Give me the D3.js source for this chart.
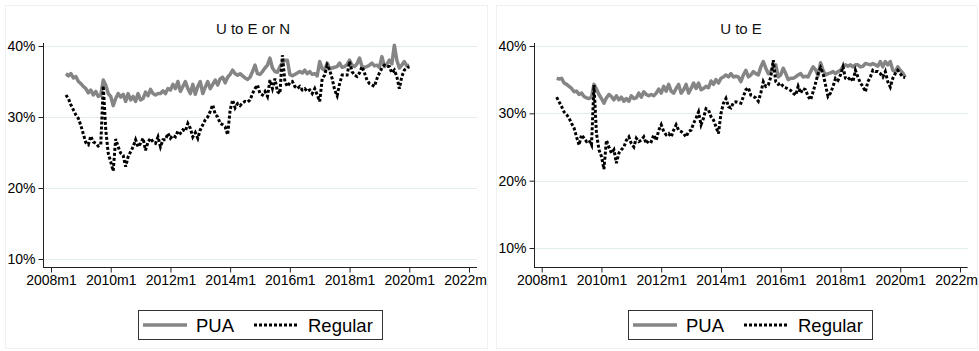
<!DOCTYPE html>
<html><head><meta charset="utf-8">
<script src="https://cdn.jsdelivr.net/npm/d3@7"></script>
<style>
body{margin:0;background:#fff}
svg{display:block;font-family:Arial,"Liberation Sans",sans-serif}
</style>
</head><body><svg id="c" width="979" height="351"></svg>
<script>
// months since 2008m1 of the first observation (2008m7)
const startMonth = 6;
const xTickMonths = [0, 24, 48, 72, 96, 120, 144, 168];
const xTickLabels = ["2008m1","2010m1","2012m1","2014m1","2016m1","2018m1","2020m1","2022m1"];
const yTickValues = [10, 20, 30, 40];
const panelTitles = ["U to E or N", "U to E"];
const seriesNames = ["PUA", "Regular"];

const puaLeft = [36.1,35.8,36.1,35.5,35.7,35.0,
34.7,34.3,34.0,33.4,33.8,33.1,33.6,32.9,33.1,35.2,34.5,33.3,
32.9,31.6,32.6,33.3,32.8,33.2,32.2,33.3,32.4,32.9,32.2,33.3,
32.4,32.6,33.5,33.0,33.9,33.3,33.1,33.3,33.3,33.7,33.3,34.0,
33.8,34.6,34.0,35.0,33.6,34.3,35.0,34.0,33.3,34.6,33.2,34.3,
35.0,33.3,34.2,35.0,34.0,34.6,35.2,34.5,35.4,35.6,34.8,35.6,
36.0,36.6,36.1,35.9,36.1,35.8,35.5,35.3,35.6,36.4,37.3,36.1,
36.0,36.4,36.9,37.3,38.3,36.9,36.4,36.3,37.1,37.6,38.0,38.0,
36.0,35.8,36.0,36.2,36.4,36.2,36.6,36.1,36.4,36.0,36.1,35.8,
37.8,36.8,36.6,37.6,36.8,36.9,37.0,37.1,37.6,37.0,37.1,37.4,
38.0,37.3,37.1,37.5,38.3,37.1,37.0,37.1,37.3,37.6,37.2,37.3,
37.0,38.5,37.1,37.4,38.0,37.5,40.1,38.0,36.9,37.3,37.8,37.2,
37.3];

const regularLeft = [33.1,32.6,31.7,31.0,30.3,29.8,
28.8,27.6,26.4,26.1,27.3,26.5,26.3,25.9,26.1,34.4,28.2,24.9,
23.7,22.4,26.9,25.8,24.9,24.6,23.0,24.4,25.1,25.8,26.8,25.8,
26.3,27.0,25.3,26.5,27.0,26.5,26.3,27.2,25.8,26.8,26.8,27.7,
27.0,27.4,27.2,28.0,27.7,28.2,28.0,29.1,28.4,27.2,27.8,27.0,
28.2,28.9,29.6,30.0,30.8,31.7,30.4,30.0,29.1,28.9,28.6,27.5,
31.0,32.4,31.3,31.9,31.6,32.0,32.2,32.1,32.4,33.3,34.0,34.5,
33.3,33.1,33.6,32.9,35.2,34.0,35.4,33.6,33.3,38.7,35.0,34.3,
34.8,35.0,34.3,34.0,34.3,33.8,34.0,33.6,33.8,33.3,34.0,33.1,
32.2,35.4,35.9,37.3,36.6,35.4,33.8,33.0,34.7,35.9,35.9,35.9,
37.8,36.4,35.9,35.7,36.2,37.1,36.2,35.2,34.7,34.5,34.3,35.4,
36.2,36.9,37.3,37.1,37.1,36.2,36.6,35.7,34.0,35.7,36.6,36.9,
37.1];

const puaRight = [35.2,35.1,35.2,34.5,34.3,34.0,
33.7,33.2,33.3,32.8,33.0,32.5,32.3,32.2,32.4,34.3,33.6,32.8,
32.2,31.5,32.3,32.8,32.5,32.0,32.6,32.0,32.4,31.8,32.2,31.8,
32.6,32.2,32.3,33.0,32.4,33.2,32.8,32.6,32.8,32.6,33.0,33.6,
33.0,34.0,33.3,34.3,33.3,33.0,33.7,34.3,33.0,33.5,34.3,33.0,
33.7,34.5,33.7,34.5,33.5,33.7,34.0,33.8,34.8,34.3,35.0,34.5,
35.2,35.4,35.7,35.4,35.9,35.4,35.5,35.4,34.7,35.7,36.4,35.4,
35.7,36.2,35.9,35.7,36.9,37.7,36.7,35.9,36.2,36.9,37.2,35.4,
35.7,36.7,35.9,35.0,35.2,35.2,35.4,35.7,35.9,35.4,35.5,35.4,
36.2,36.9,36.5,35.6,37.5,36.4,35.7,35.9,36.0,36.2,35.9,36.2,
36.4,36.9,37.2,37.0,37.2,36.9,37.2,37.2,36.9,37.0,37.4,37.3,
37.2,37.4,37.2,37.0,37.7,36.9,37.7,37.2,37.7,36.4,36.2,36.9,
36.4,36.0,35.4];

const regularRight = [32.4,31.7,31.0,30.2,29.8,29.3,
28.5,27.8,26.5,25.3,26.8,26.3,25.8,26.0,25.3,34.2,27.0,24.6,
23.6,21.7,26.0,25.0,24.1,24.6,22.6,24.1,24.6,25.0,26.0,26.5,
25.5,25.0,26.3,25.8,26.0,26.5,25.5,26.0,25.8,26.8,26.0,27.5,
28.3,27.3,26.8,27.0,26.5,27.5,28.3,27.5,27.3,27.0,26.5,27.3,
27.5,28.5,29.3,30.2,28.3,29.3,30.7,30.5,29.5,29.0,28.0,27.0,
30.0,31.5,32.2,31.0,30.8,31.6,31.7,31.6,31.5,32.5,33.5,33.8,
32.7,32.5,32.3,31.8,33.0,34.7,34.0,34.2,35.4,37.9,34.7,34.3,
34.5,34.0,33.8,33.6,33.4,33.0,32.7,34.0,33.0,33.7,33.5,32.5,
32.0,33.2,34.5,35.9,36.8,35.9,34.2,32.5,33.0,34.0,35.2,34.9,
35.7,36.9,35.2,35.0,35.4,34.7,36.4,35.4,34.5,34.0,33.2,34.7,
35.4,36.4,36.2,36.2,35.9,35.4,36.2,34.7,33.9,35.2,35.9,36.4,
35.9,35.4,35.3];

const panels = [
  {title: panelTitles[0], pua: puaLeft, reg: regularLeft,
   clipX: 0, clipW: 488, frameX: 5.5, frameW: 482,
   axisX: 43, xLo: 51, xHi: 469, plotRight: 477,
   y10: 259, y40: 46, titleX: 253, legendX: 138},
  {title: panelTitles[1], pua: puaRight, reg: regularRight,
   clipX: 490, clipW: 489, frameX: 496.5, frameW: 481,
   axisX: 534, xLo: 541.7, xHi: 960, plotRight: 967.7,
   y10: 248, y40: 46, titleX: 741, legendX: 628}
];

const svg = d3.select("#c");
const defs = svg.append("defs");
const plotTop = 43, plotBottom = 267;
const puaColor = "#858585";

panels.forEach((p, k) => {
  defs.append("clipPath").attr("id", "clip" + k)
    .append("rect").attr("x", p.clipX).attr("y", 0).attr("width", p.clipW).attr("height", 351);
  const g = svg.append("g").attr("clip-path", `url(#clip${k})`);

  g.append("rect").attr("x", p.frameX).attr("y", 5.5).attr("width", p.frameW).attr("height", 343)
    .attr("fill", "#fff").attr("stroke", "#eef2f4").attr("stroke-width", 1);

  const x = d3.scaleLinear().domain([xTickMonths[0], xTickMonths[xTickMonths.length - 1]]).range([p.xLo, p.xHi]);
  const y = d3.scaleLinear().domain([10, 40]).range([p.y10, p.y40]);

  // grid
  g.append("g").selectAll("line").data(yTickValues).join("line")
    .attr("x1", p.axisX).attr("x2", p.plotRight)
    .attr("y1", d => Math.round(y(d)) + 0.5).attr("y2", d => Math.round(y(d)) + 0.5)
    .attr("stroke", "#e3ecee").attr("stroke-width", 1.2);

  // title
  g.append("text").attr("x", p.titleX).attr("y", 34).attr("text-anchor", "middle")
    .attr("font-size", 15).attr("fill", "#111").text(p.title);

  // series
  const line = d3.line().x((d, i) => x(startMonth + i)).y(d => y(d));
  g.append("path").datum(p.pua).attr("d", line).attr("fill", "none")
    .attr("stroke", puaColor).attr("stroke-width", 3.5).attr("stroke-linejoin", "round");
  g.append("path").datum(p.reg).attr("d", line).attr("fill", "none")
    .attr("stroke", "#000").attr("stroke-width", 3).attr("stroke-dasharray", "3,2");

  // y axis
  const ya = g.append("g").attr("transform", `translate(${p.axisX + 0.5},0)`)
    .call(d3.axisLeft(y).tickValues(yTickValues).tickFormat(d => d + "%").tickSize(5).tickPadding(3));
  ya.select(".domain").remove();
  ya.selectAll("text").attr("font-size", 14).attr("font-family", "Arial, 'Liberation Sans', sans-serif").attr("fill", "#000");
  ya.selectAll("line").attr("stroke", "#222");
  g.append("line").attr("x1", p.axisX + 0.5).attr("x2", p.axisX + 0.5).attr("y1", plotTop).attr("y2", plotBottom)
    .attr("stroke", "#222");

  // x axis
  const xa = g.append("g").attr("transform", `translate(0,${plotBottom + 0.5})`)
    .call(d3.axisBottom(x).tickValues(xTickMonths).tickFormat((d, i) => xTickLabels[i]).tickSize(5).tickPadding(3));
  xa.select(".domain").remove();
  xa.selectAll("text").attr("font-size", 14).attr("font-family", "Arial, 'Liberation Sans', sans-serif").attr("fill", "#000");
  xa.selectAll("line").attr("stroke", "#222");
  g.append("line").attr("x1", p.axisX).attr("x2", p.plotRight).attr("y1", plotBottom + 0.5).attr("y2", plotBottom + 0.5)
    .attr("stroke", "#222");

  // legend
  const lg = g.append("g").attr("transform", `translate(${p.legendX},310)`);
  lg.append("rect").attr("x", 0.5).attr("y", 0.5).attr("width", 244).attr("height", 29)
    .attr("fill", "#fff").attr("stroke", "#333").attr("stroke-width", 1);
  lg.append("line").attr("x1", 5).attr("x2", 49).attr("y1", 15).attr("y2", 15)
    .attr("stroke", puaColor).attr("stroke-width", 3.5);
  lg.append("text").attr("x", 58).attr("y", 22).attr("font-size", 18.5).attr("fill", "#000").text(seriesNames[0]);
  lg.append("line").attr("x1", 116).attr("x2", 161).attr("y1", 15).attr("y2", 15)
    .attr("stroke", "#000").attr("stroke-width", 3).attr("stroke-dasharray", "3,2");
  lg.append("text").attr("x", 170).attr("y", 22).attr("font-size", 18.5).attr("fill", "#000").text(seriesNames[1]);
});
</script>
</body></html>
